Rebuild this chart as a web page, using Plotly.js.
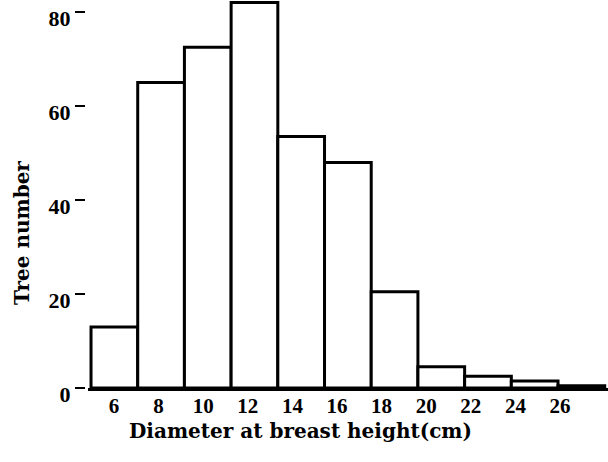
<!DOCTYPE html>
<html><head><meta charset="utf-8">
<script src="https://cdn.plot.ly/plotly-3.0.1.min.js"></script>
<style>html,body{margin:0;padding:0;background:#fff}#chart{width:608px;height:462px}</style>
</head><body><div id="chart"></div>
<script>
const diameterClasses = [6, 8, 10, 12, 14, 16, 18, 20, 22, 24, 26];
const treeCounts = [13, 65, 72.5, 82, 53.5, 48, 20.5, 4.5, 2.5, 1.5, 0.5];
const xTickLabels = ['6','8','10','12','14','16','18','20','22','24','26'];
const yTickValues = [0, 20, 40, 60, 80];

const tickFont = {family: 'Liberation Serif, serif', size: 21, color: '#000', weight: 'bold'};
const titleFont = {family: 'DejaVu Serif, serif', size: 20, color: '#000', weight: 'bold'};
const data = [
  {type: 'bar', x: diameterClasses, y: treeCounts, width: 2,
   marker: {color: '#ffffff', line: {color: '#000000', width: 3}}, hoverinfo: 'none'},
  {type: 'scatter', x: diameterClasses, y: treeCounts, xaxis: 'x2', mode: 'none',
   hoverinfo: 'none', showlegend: false}
];
const layout = {
  width: 608, height: 462,
  margin: {l: 85, r: 0, t: 0, b: 74},
  paper_bgcolor: '#fff', plot_bgcolor: '#fff',
  showlegend: false, bargap: 0,
  xaxis: {domain: [0.0057, 1], range: [4.87, 27.14], showgrid: false, zeroline: false,
          showticklabels: false, ticks: '', showline: true, linecolor: '#000', linewidth: 3},
  xaxis2: {overlaying: 'x', anchor: 'y', side: 'bottom', range: [4.834, 28.15],
           tickmode: 'array', tickvals: diameterClasses, ticktext: xTickLabels,
           showgrid: false, zeroline: false, showline: false, ticks: '',
           ticklabelstandoff: 3, tickfont: tickFont},
  yaxis: {anchor: 'free', position: 0, range: [0, 82.55], showgrid: false, zeroline: false,
          showline: false, tickmode: 'array', tickvals: yTickValues,
          ticks: 'outside', ticklen: 10, tickwidth: 2, tickcolor: '#000',
          ticklabelshift: 6, ticklabeloverflow: 'allow',
          tickfont: {family: 'Liberation Serif, serif', size: 22, color: '#000', weight: 'bold'}},
  annotations: [
    {text: 'Diameter at breast height(cm)', xref: 'paper', yref: 'paper', x: 0.413, y: -0.112,
     xanchor: 'center', yanchor: 'middle', showarrow: false, font: titleFont},
    {text: 'Tree number', xref: 'paper', yref: 'paper', x: -0.1205, y: 0.3995, textangle: -90,
     xanchor: 'center', yanchor: 'middle', showarrow: false, font: titleFont}
  ]
};
Plotly.newPlot('chart', data, layout, {displayModeBar: false, staticPlot: true});
</script></body></html>
